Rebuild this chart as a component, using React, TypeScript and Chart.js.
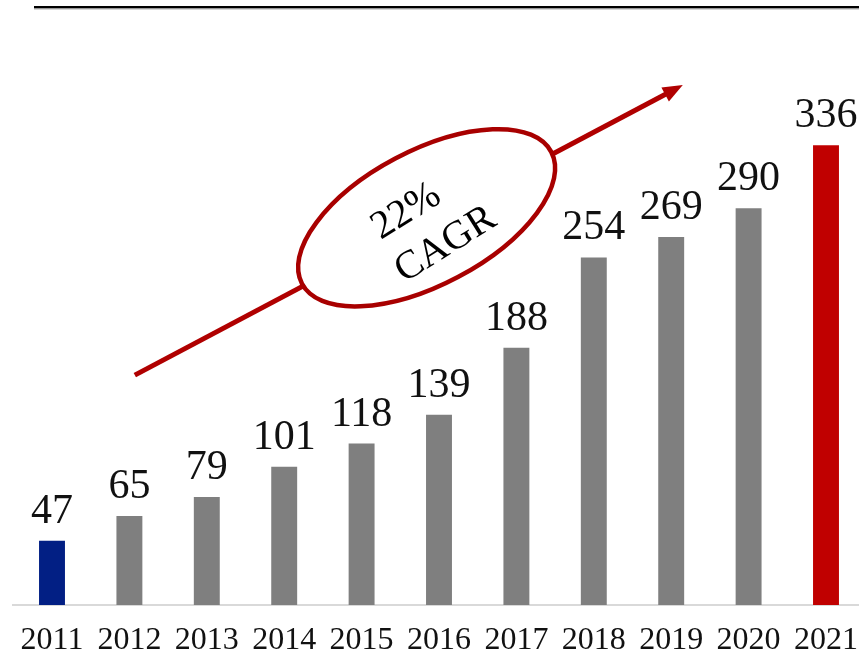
import React, { useEffect, useRef } from "react";
import { Chart, registerables } from "chart.js";

Chart.register(...registerables);

const years = ["2011", "2012", "2013", "2014", "2015", "2016", "2017", "2018", "2019", "2020", "2021"];
const values = [47, 65, 79, 101, 118, 139, 188, 254, 269, 290, 336];
const barColors = ["#021F84", "#7F7F7F", "#7F7F7F", "#7F7F7F", "#7F7F7F", "#7F7F7F", "#7F7F7F", "#7F7F7F", "#7F7F7F", "#7F7F7F", "#C00000"];
const cagrLines = ["22%", "CAGR"];
// arrow start/end and ellipse centre in data units (category index, value)
const arrowFrom = [1.07, 168];
const arrowTo = [8.15, 380];
const ellipseCenter = [4.84, 283];

const SERIF = "'Liberation Serif', 'Times New Roman', serif";

const decorPlugin = {
  id: "decor",
  afterDatasetsDraw(chart: any) {
    const ctx = chart.ctx;
    const xs = chart.scales.x;
    const ys = chart.scales.y;
    const meta = chart.getDatasetMeta(0);
    // value labels
    ctx.save();
    ctx.fillStyle = "#111";
    ctx.font = `42px ${SERIF}`;
    ctx.textAlign = "center";
    ctx.textBaseline = "alphabetic";
    meta.data.forEach((bar: any, i: number) => {
      ctx.fillText(String(values[i]), bar.x, bar.y - 18);
    });
    ctx.restore();

    // top rule
    ctx.save();
    ctx.fillStyle = "#000";
    ctx.fillRect(34, 6, chart.width, 2.5);
    ctx.fillStyle = "#B0B0B0";
    ctx.fillRect(34, 8.5, chart.width, 1);
    ctx.restore();

    // arrow
    const x1 = xs.getPixelForValue(arrowFrom[0]);
    const y1 = ys.getPixelForValue(arrowFrom[1]);
    const x2 = xs.getPixelForValue(arrowTo[0]);
    const y2 = ys.getPixelForValue(arrowTo[1]);
    const ang = Math.atan2(y2 - y1, x2 - x1);
    const red = "#B00000";
    ctx.save();
    ctx.strokeStyle = red;
    ctx.fillStyle = red;
    ctx.lineWidth = 5;
    const headLen = 20;
    const bx = x2 - headLen * Math.cos(ang);
    const by = y2 - headLen * Math.sin(ang);
    ctx.beginPath();
    ctx.moveTo(x1, y1);
    ctx.lineTo(bx + 2 * Math.cos(ang), by + 2 * Math.sin(ang));
    ctx.stroke();
    ctx.beginPath();
    ctx.moveTo(x2, y2);
    ctx.lineTo(bx + 8 * Math.sin(ang), by - 8 * Math.cos(ang));
    ctx.lineTo(bx - 8 * Math.sin(ang), by + 8 * Math.cos(ang));
    ctx.closePath();
    ctx.fill();

    // ellipse
    const cx = xs.getPixelForValue(ellipseCenter[0]);
    const cy = ys.getPixelForValue(ellipseCenter[1]);
    ctx.beginPath();
    ctx.ellipse(cx, cy, 141, 67, ang, 0, Math.PI * 2);
    ctx.fillStyle = "#FFFFFF";
    ctx.fill();
    ctx.lineWidth = 4.5;
    ctx.strokeStyle = "#A80000";
    ctx.stroke();

    // text
    ctx.translate(cx, cy);
    ctx.rotate(-32 * Math.PI / 180);
    ctx.fillStyle = "#000";
    ctx.font = `40px ${SERIF}`;
    ctx.textAlign = "center";
    ctx.textBaseline = "middle";
    ctx.fillText(cagrLines[0], -14, -16);
    ctx.fillText(cagrLines[1], 2, 33);
    ctx.restore();
  },
};

export default function App() {
  const ref = useRef<HTMLCanvasElement>(null);
  useEffect(() => {
    if (!ref.current) return;
    const chart = new Chart(ref.current, {
      type: "bar",
      data: {
        labels: years,
        datasets: [
          {
            data: values,
            backgroundColor: barColors,
            barPercentage: 0.335,
            categoryPercentage: 1,
          },
        ],
      },
      options: {
        animation: false,
        responsive: false,
        maintainAspectRatio: false,
        layout: { padding: { left: 13.3, right: 1.3, top: 3, bottom: 0 } },
        plugins: { legend: { display: false }, tooltip: { enabled: false } },
        scales: {
          x: {
            grid: { display: false, drawTicks: false },
            border: { display: true, color: "#D9D9D9", width: 2 },
            ticks: {
              color: "#111",
              font: { family: SERIF, size: 32, lineHeight: 2.25 },
              padding: 0,
              maxRotation: 0,
              autoSkip: false,
            },
            afterFit: (scale: any) => {
              scale.height = 48;
            },
          },
          y: {
            display: false,
            min: 0,
            max: 440,
          },
        },
      },
      plugins: [decorPlugin],
    });
    return () => chart.destroy();
  }, []);
  return (
    <div style={{ position: "absolute", left: 0, top: 0, width: 859, height: 653, overflow: "hidden", background: "#fff" }}>
      <canvas ref={ref} width={866} height={653} style={{ display: "block", width: 866, height: 653 }} />
    </div>
  );
}
